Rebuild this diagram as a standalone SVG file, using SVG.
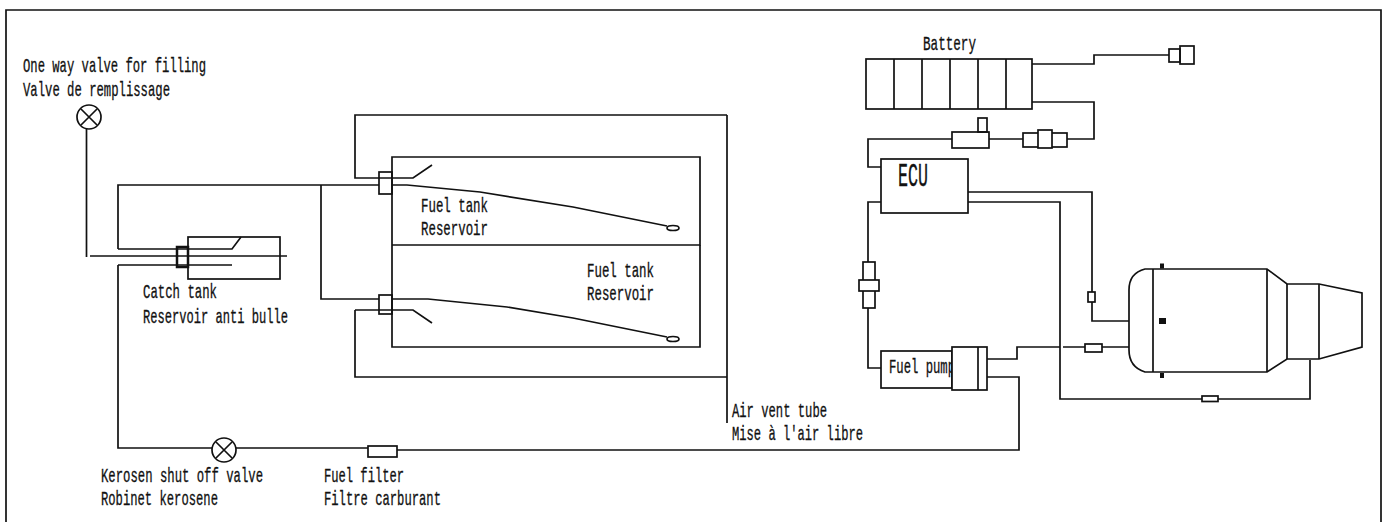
<svg xmlns="http://www.w3.org/2000/svg" width="1388" height="522" viewBox="0 0 1388 522">
<style>
.l{fill:none;stroke:#111;stroke-width:1.7}
.b{fill:#fff;stroke:#111;stroke-width:1.7}
.k{fill:#111}
text{font-family:"Liberation Mono","Courier New",monospace;font-size:21px;fill:#111;stroke:#111;stroke-width:.35}
.ecu{font-size:34px}
</style>
<rect width="1388" height="522" fill="#fff"/>
<path id="frame" class="l" d="M6 522V10H1381V522"/>
<g id="connectors" class="l">
<path d="M86.500 129V257"/>
<path d="M90 256H287"/>
<path d="M118 249V185H379M118 249H232L241 237"/>
<path d="M118 265H232M118 265V448H212"/>
<path d="M236 448H368M397 450H1019V377H987"/>
<path d="M321 185V299H379"/>
<path d="M727 115H355V178H413L432 165"/>
<path d="M355 310H413L432 323M355 310V377H727"/>
<path d="M727 115V423"/>
<path d="M392 185H407L480 192L573 207L667 226"/>
<path d="M392 299H428L507 307L573 318L667 337"/>
<path d="M1032 64H1094V55H1169"/>
<path d="M1032 102H1094V139H1067"/>
<path d="M1023 139H989M952 139H868V167H881"/>
<path d="M881 202H868V262M868 308V368H881"/>
<path d="M968 192H1092V292M1092 302V321H1129"/>
<path d="M968 202H1060V399H1202M1218 399H1310V360"/>
<path d="M987 359H1017V347H1060M1063 347H1085M1102 347H1129"/>
</g>
<g id="filling-valve">
<circle class="b" cx="89" cy="117" r="12"/><path class="l" d="M81 109L97 125M97 109L81 125"/>
<text x="23" y="72" textLength="183" lengthAdjust="spacingAndGlyphs">One way valve for filling</text>
<text x="23" y="96" textLength="147" lengthAdjust="spacingAndGlyphs">Valve de remplissage</text>
</g>
<g id="catch-tank">
<rect class="l" x="188" y="237" width="92" height="42"/>
<rect class="l" x="177" y="247" width="11" height="20" style="stroke-width:2.5"/>
<text x="143" y="298" textLength="74" lengthAdjust="spacingAndGlyphs">Catch tank</text>
<text x="143" y="323" textLength="145" lengthAdjust="spacingAndGlyphs">Reservoir anti bulle</text>
</g>
<g id="fuel-tank-upper">
<path class="l" d="M392 245V157H700V245H392"/>
<rect class="l" x="379" y="172" width="13" height="22"/>
<ellipse class="l" cx="673" cy="228" rx="6" ry="2.500"/>
<text x="421" y="212" textLength="67" lengthAdjust="spacingAndGlyphs">Fuel tank</text>
<text x="421" y="235" textLength="67" lengthAdjust="spacingAndGlyphs">Reservoir</text>
</g>
<g id="fuel-tank-lower">
<path class="l" d="M392 245V347H700V245"/>
<rect class="l" x="379" y="295" width="13" height="19"/>
<ellipse class="l" cx="673" cy="339" rx="6" ry="2.500"/>
<text x="587" y="277" textLength="67" lengthAdjust="spacingAndGlyphs">Fuel tank</text>
<text x="587" y="300" textLength="67" lengthAdjust="spacingAndGlyphs">Reservoir</text>
</g>
<g id="battery">
<rect class="l" x="866" y="59" width="166" height="50"/>
<path class="l" d="M894 59V109M922 59V109M950 59V109M978 59V109M1006 59V109"/>
<text x="923" y="50" textLength="53" lengthAdjust="spacingAndGlyphs">Battery</text>
</g>
<g id="battery-plug">
<rect class="l" x="1169" y="49" width="11" height="13"/>
<rect class="l" x="1180" y="46" width="14" height="18"/>
</g>
<g id="switch">
<rect class="l" x="978" y="118" width="9" height="14"/>
<rect class="l" x="952" y="132" width="37" height="16"/>
</g>
<g id="connector-battery">
<rect class="l" x="1023" y="133" width="44" height="14"/>
<rect class="b" x="1038" y="130" width="14" height="18"/>
</g>
<g id="ecu">
<rect class="l" x="881" y="159" width="87" height="54"/>
<text class="ecu" x="898" y="186" textLength="30" lengthAdjust="spacingAndGlyphs">ECU</text>
</g>
<g id="connector-pump">
<rect class="l" x="863" y="262" width="12" height="46"/>
<rect class="b" x="859" y="280" width="20" height="11"/>
</g>
<g id="fuel-pump">
<rect class="l" x="881" y="351" width="71" height="37"/>
<text x="889" y="373" textLength="66" lengthAdjust="spacingAndGlyphs">Fuel pump</text>
<rect class="b" x="952" y="347" width="35" height="43"/>
<path class="l" d="M978 347V390"/>
</g>
<g id="shutoff-valve">
<circle class="b" cx="224" cy="450" r="12"/><path class="l" d="M216 442L232 458M232 442L216 458"/>
<text x="101" y="482" textLength="162" lengthAdjust="spacingAndGlyphs">Kerosen shut off valve</text>
<text x="101" y="505" textLength="117" lengthAdjust="spacingAndGlyphs">Robinet kerosene</text>
</g>
<g id="fuel-filter">
<rect class="l" x="368" y="446" width="29" height="11"/>
<text x="324" y="482" textLength="80" lengthAdjust="spacingAndGlyphs">Fuel filter</text>
<text x="324" y="505" textLength="117" lengthAdjust="spacingAndGlyphs">Filtre carburant</text>
</g>
<g id="air-vent">
<text x="732" y="417" textLength="95" lengthAdjust="spacingAndGlyphs">Air vent tube</text>
<text x="732" y="440" textLength="131" lengthAdjust="spacingAndGlyphs">Mise à l'air libre</text>
</g>
<g id="inline-filters">
<rect class="l" x="1088" y="292" width="7" height="10"/>
<rect class="l" x="1085" y="344" width="17" height="8"/>
<rect class="l" x="1202" y="396" width="16" height="5.500"/>
</g>
<g id="engine">
<path class="l" d="M1145 269H1267L1287 284H1319L1362 293V347L1319 359H1287L1267 372H1145Q1129 367 1129 350V290Q1129 273 1145 269Z"/>
<path class="l" d="M1153 269V372M1267 269V372M1287 284V359M1319 284V359"/>
<rect class="k" x="1160" y="263.500" width="4" height="5"/>
<rect class="k" x="1160" y="373" width="4" height="5"/>
<rect class="k" x="1159" y="318" width="7" height="6"/>
</g>
</svg>
